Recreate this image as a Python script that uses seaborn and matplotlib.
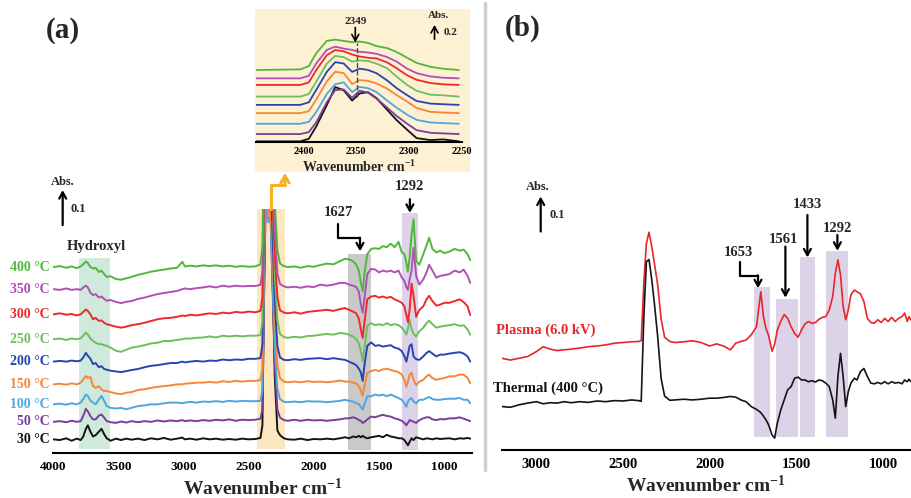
import numpy as np
import pandas as pd
import seaborn as sns
import matplotlib.pyplot as plt
from matplotlib.lines import Line2D
from matplotlib.patches import Rectangle

W, H = 911, 498

# ---------------- panel (a): in situ spectra, mAbs above each trace's own baseline
wn_a = [4000, 3950, 3900, 3860, 3820, 3790, 3770, 3750, 3735, 3715,
        3695, 3675, 3650, 3630, 3610, 3590, 3560, 3520, 3480, 3440,
        3400, 3350, 3300, 3250, 3200, 3150, 3100, 3050, 3010, 2990,
        2950, 2900, 2850, 2800, 2750, 2700, 2650, 2600, 2550, 2500,
        2450, 2410, 2395, 2380, 2365, 2350, 2335, 2320, 2300, 2280,
        2260, 2230, 2200, 2150, 2100, 2050, 2000, 1950, 1900, 1850,
        1800, 1760, 1730, 1700, 1675, 1655, 1640, 1625, 1610, 1590,
        1560, 1530, 1500, 1470, 1440, 1410, 1380, 1350, 1325, 1305,
        1290, 1278, 1265, 1250, 1235, 1215, 1190, 1160, 1135, 1115,
        1090, 1060, 1030, 1000, 960, 920, 880, 850, 820, 800]

a_30 = [0, -2, 3, -4, 2, -2, 8, 30, 40, 22,
        8, 12, 22, 30, 15, 3, -4, 2, -2, 2,
        -1, 2, -2, 3, 0, 4, -1, 2, 5, 0,
        2, -1, 3, 0, 2, -1, 1, -1, 2, 0,
        1, 4, 40, 480, 850, 680, 740, 520, 180, 25,
        12, 3, 0, -1, 2, -2, 1, 0, 2, 0,
        3, 6, 3, 8, 6, 10, 6, 10, 6, 3,
        6, 8, 10, 6, 13, 8, 6, 3, 3, -2,
        -10, -17, -7, 3, -2, 6, 3, 0, 3, 2,
        0, 3, 1, 2, 3, 0, 3, 2, 4, 2]
a_50 = [0, 2, -1, 3, 0, 2, 17, 37, 30, 16,
        7, 7, 18, 21, 12, 2, -1, -3, 1, -2,
        2, -1, 2, 0, 4, 1, 4, 2, 5, 2,
        4, 2, 5, 3, 6, 4, 7, 3, 6, 5,
        6, 9, 35, 420, 690, 600, 640, 420, 170, 35,
        12, 5, 3, 6, 3, 6, 4, 5, 3, 5,
        7, 10, 10, 13, 10, 5, 3, -3, 0, 7,
        15, 13, 17, 20, 17, 15, 10, 7, 3, -3,
        -10, -3, 5, 3, 0, -3, 5, 10, 13, 13,
        7, 5, 8, 7, 10, 10, 13, 9, 5, 2]
a_100 = [0, 2, -1, 3, 0, 5, 15, 28, 24, 10,
         5, 0, 14, 24, 10, -5, -10, -12, -10, -14,
         -10, -5, -3, 0, 0, 3, 5, 5, 3, 5,
         7, 5, 8, 7, 9, 7, 10, 8, 10, 9,
         9, 10, 40, 440, 630, 520, 550, 390, 160, 45,
         15, 7, 6, 8, 6, 9, 8, 8, 6, 8,
         10, 13, 10, 8, 3, 1, -7, -15, 3, 23,
         23, 28, 25, 28, 23, 28, 23, 18, 13, 3,
         -7, 8, 15, 18, 8, 3, 13, 13, 18, 21,
         15, 13, 13, 15, 16, 16, 18, 13, 13, 3]
a_150 = [0, 2, -1, 3, 0, 5, 14, 24, 19, 21,
         -5, -10, -5, -14, -19, -19, -22, -26, -28, -24,
         -22, -16, -14, -10, -7, -5, -3, 0, 0, 2,
         3, 5, 5, 7, 5, 9, 7, 10, 8, 10,
         10, 12, 45, 460, 630, 480, 500, 400, 190, 55,
         18, 8, 6, 8, 6, 9, 7, 8, 6, 8,
         11, 8, 8, 5, 3, -5, -17, -32, -2, 33,
         38, 41, 38, 43, 45, 41, 38, 35, 28, 13,
         -7, 8, 28, 33, 13, -2, 8, 13, 23, 28,
         18, 13, 16, 18, 23, 23, 28, 28, 18, 3]
a_200 = [0, 2, 0, 3, 1, 3, 12, 25, 17, 8,
         -7, -4, -16, -13, -21, -23, -26, -28, -30, -27,
         -24, -21, -16, -12, -10, -7, -4, -4, 0, -2,
         0, 2, 0, 3, 2, 6, 4, 6, 5, 8,
         8, 10, 50, 480, 650, 530, 540, 400, 170, 45,
         12, 5, 4, 7, 5, 8, 9, 10, 7, 10,
         7, 5, 0, -5, -10, -20, -30, -55, -5, 45,
         55, 45, 47, 43, 45, 47, 40, 37, 30, 15,
         0, 20, 45, 50, 15, 7, 5, 15, 25, 30,
         23, 15, 20, 20, 23, 25, 27, 23, 15, 0]
a_250 = [0, 2, -2, 2, 0, 2, 10, 19, 14, 2,
         -5, -10, -14, -14, -17, -19, -24, -33, -36, -30,
         -24, -21, -17, -12, -10, -5, -5, -2, 0, 2,
         2, 4, 5, 8, 5, 10, 8, 10, 8, 10,
         10, 12, 50, 480, 620, 550, 540, 440, 180, 55,
         15, 6, 4, 7, 5, 9, 10, 13, 15, 13,
         18, 16, 13, 8, 0, -12, -32, -62, -22, 38,
         46, 40, 43, 40, 46, 40, 43, 40, 33, 23,
         13, 30, 55, 30, 15, 8, 23, 33, 46, 53,
         43, 33, 36, 38, 40, 43, 38, 40, 28, 13]
a_300 = [0, 3, -1, 1, -3, 0, 7, 14, 10, 0,
         -14, -10, -19, -17, -24, -28, -31, -35, -38, -35,
         -31, -28, -24, -19, -14, -11, -10, -7, -3, -5,
         -1, -3, 0, 3, 1, 5, 3, 7, 5, 8,
         6, 10, 50, 440, 530, 460, 420, 350, 170, 50,
         12, 5, 3, 6, 2, 7, 9, 11, 13, 10,
         15, 18, 13, 8, 3, -12, -42, -67, -17, 43,
         51, 53, 48, 51, 47, 50, 43, 38, 33, 23,
         -2, -22, 13, 88, 53, -7, 13, 23, 43, 53,
         38, 25, 28, 33, 33, 38, 43, 35, 23, -2]
a_350 = [0, -2, 2, -2, 0, -2, 5, 10, 5, -10,
         -17, -14, -24, -21, -28, -33, -31, -36, -40, -36,
         -34, -28, -24, -19, -14, -11, -8, -5, 0, 2,
         0, 3, 5, 8, 5, 10, 7, 10, 8, 9,
         9, 12, 50, 400, 470, 440, 400, 340, 180, 45,
         15, 8, 5, 7, 4, 8, 6, 13, 10, 13,
         18, 18, 13, 10, 6, -7, -42, -67, -22, 43,
         58, 56, 48, 53, 50, 53, 48, 53, 33, 23,
         6, -2, 28, 53, 118, 38, 13, 28, 48, 70,
         53, 33, 38, 40, 43, 53, 48, 56, 38, 18]
a_400 = [0, 3, -2, 2, -3, 2, 8, 16, 12, 0,
         -4, -2, -14, -10, -20, -28, -26, -34, -36, -32,
         -28, -22, -18, -13, -10, -7, -4, -2, 15, 2,
         4, 2, 5, 3, 5, 2, 4, 1, 3, 1,
         2, 8, 60, 420, 460, 440, 400, 340, 190, 50,
         10, 3, 0, 2, -2, 3, 1, 6, 10, 8,
         17, 24, 22, 17, 7, -10, -43, -70, -13, 37,
         52, 54, 52, 60, 57, 67, 57, 72, 42, 37,
         12, -13, 27, 92, 137, 17, 7, 37, 62, 84,
         52, 42, 47, 40, 44, 52, 47, 50, 37, 20]

temps = ['30 °C', '50 °C', '100 °C', '150 °C', '200 °C',
         '250 °C', '300 °C', '350 °C', '400 °C']
spectra_a = [a_30, a_50, a_100, a_150, a_200, a_250, a_300, a_350, a_400]
offsets_a = [0.039, 0.089, 0.139, 0.196, 0.261, 0.325, 0.396, 0.468, 0.531]
colors = ['#141414', '#7b3c9c', '#4ea6e0', '#f5863a', '#2546b0',
          '#6cbf5c', '#ec2a2c', '#b050b4', '#4fb83a']

# ---------------- inset: CO2 band, Abs above each trace's baseline
wn_in = [2445, 2403, 2395, 2388, 2378, 2370, 2362, 2354, 2347,
         2339, 2331, 2321, 2312, 2302, 2293, 2280, 2268, 2253]
in_30 = [0, 0, .04, .23, .56, .84, .79, .63, .74, .76, .67, .49, .33, .18, .05, .02, .03, 0]
in_50 = [0, 0, .03, .18, .49, .68, .69, .56, .67, .64, .55, .41, .28, .16, .06, .02, .01, 0]
in_100 = [0, 0, .03, .18, .46, .61, .64, .49, .57, .55, .49, .36, .25, .14, .06, .02, .01, 0]
in_150 = [0, 0, .03, .21, .49, .64, .62, .45, .51, .50, .46, .38, .28, .18, .08, .02, .01, 0]
in_200 = [0, 0, .04, .23, .51, .66, .64, .51, .56, .54, .49, .38, .26, .15, .06, .02, .01, 0]
in_250 = [0, 0, .04, .23, .51, .63, .61, .54, .56, .55, .51, .44, .31, .18, .09, .03, .02, 0]
in_300 = [0, 0, .04, .23, .46, .54, .52, .47, .44, .42, .41, .35, .26, .15, .08, .03, .01, 0]
in_350 = [0, 0, .04, .23, .44, .49, .46, .44, .41, .40, .38, .33, .26, .15, .08, .03, .01, 0]
in_400 = [0, .01, .06, .26, .45, .47, .45, .43, .44, .42, .37, .34, .28, .19, .11, .05, .02, 0]
spectra_in = [in_30, in_50, in_100, in_150, in_200, in_250, in_300, in_350, in_400]
offsets_in = [0, 0.113, 0.272, 0.436, 0.564, 0.692, 0.872, 0.974, 1.103]

# ---------------- panel (b): plasma vs thermal, mAbs above baseline
wn_b = [3200, 3150, 3100, 3050, 3000, 2960, 2920, 2880, 2840, 2800,
        2750, 2700, 2650, 2600, 2550, 2500, 2450, 2410, 2395, 2380,
        2365, 2350, 2335, 2320, 2300, 2280, 2260, 2230, 2200, 2150,
        2100, 2050, 2000, 1960, 1920, 1880, 1850, 1820, 1790, 1760,
        1730, 1705, 1690, 1675, 1660, 1640, 1625, 1610, 1590, 1570,
        1550, 1530, 1510, 1490, 1470, 1450, 1430, 1410, 1390, 1370,
        1350, 1330, 1310, 1290, 1275, 1260, 1245, 1230, 1215, 1200,
        1185, 1165, 1150, 1130, 1110, 1090, 1070, 1050, 1030, 1010,
        990, 970, 950, 930, 910, 890, 875, 860, 850, 840]
plasma = [0, -5, 0, 5, 19, 33, 26, 22, 24, 26,
          29, 33, 35, 38, 43, 45, 47, 48, 50, 215,
          328, 360, 322, 275, 210, 112, 60, 48, 45, 47,
          50, 45, 35, 41, 35, 24, 43, 48, 52, 67,
          90, 190, 120, 85, 65, 20, 40, 80, 105, 125,
          114, 90, 71, 60, 81, 98, 105, 100, 102, 111,
          117, 119, 138, 176, 243, 281, 238, 148, 110, 138,
          181, 195, 190, 184, 162, 114, 102, 100, 110, 102,
          114, 105, 117, 105, 114, 119, 129, 105, 119, 110]
thermal = [0, -2, 5, 10, 14, 8, 11, 10, 14, 11,
           14, 12, 16, 14, 17, 16, 19, 17, 15, 255,
           414, 420, 366, 300, 200, 80, 30, 18, 19, 21,
           19, 21, 24, 24, 26, 29, 27, 19, 14, 0,
           -8, -17, -27, -38, -52, -81, -90, -48, -10, 19,
           48, 57, 81, 84, 76, 76, 71, 74, 70, 76,
           74, 67, 57, 19, -33, 86, 152, 86, 0, 43,
           67, 81, 76, 100, 109, 86, 67, 65, 69, 65,
           71, 65, 71, 67, 69, 65, 76, 71, 78, 72]
labels_b = ['Plasma (6.0 kV)', 'Thermal (400 °C)']
offsets_b = [0.262, 0.124]
colors_b = ['#e8262a', '#141414']

# ---------------- style
sns.set_style('white')
plt.rcParams['font.family'] = ['Liberation Serif', 'DejaVu Serif']
plt.rcParams['font.weight'] = 'bold'
plt.rcParams['axes.labelweight'] = 'bold'
plt.rcParams['mathtext.fontset'] = 'custom'
plt.rcParams['mathtext.rm'] = 'Liberation Serif:bold'
plt.rcParams['mathtext.bf'] = 'Liberation Serif:bold'
plt.rcParams['mathtext.default'] = 'bf'

fig = plt.figure(figsize=(W / 100, H / 100), dpi=100)
xlab = r'Wavenumber cm$^{-1}$'
arrow_k = dict(arrowstyle='->, head_length=0.45, head_width=0.25', lw=1.6, color='k',
               shrinkA=0, shrinkB=0)


def style_axis(ax, size):
    for s in ['left', 'top', 'right']:
        ax.spines[s].set_visible(False)
    ax.spines['bottom'].set_linewidth(1.5)
    ax.spines['bottom'].set_color('k')
    ax.set_yticks([])
    ax.set_ylabel('')
    ax.tick_params(axis='x', direction='inout', length=5, width=1.3,
                   labelsize=size, pad=3, colors='k')
    ax.set_facecolor('none')


# ---------------- panel (a)
ax_a = fig.add_axes([53.3 / W, 1 - 453 / H, 418.2 / W, 244 / H])
rows = []
for t, spec, off in zip(temps, spectra_a, offsets_a):
    rows.append(pd.DataFrame({'wn': wn_a, 'abs': off + np.array(spec) / 1000.0, 'temp': t}))
df_a = pd.concat(rows)
sns.lineplot(data=df_a, x='wn', y='abs', hue='temp', hue_order=temps,
             palette=dict(zip(temps, colors)), estimator=None, sort=False,
             legend=False, lw=1.4, ax=ax_a)
ax_a.axvspan(3801, 3565, ymin=0.015, ymax=0.80, color='#cfe9dc', lw=0, zorder=0)
ax_a.axvspan(2435, 2223, ymin=0.015, ymax=1.0, color='#fde7c0', lw=0, zorder=0)
ax_a.axvspan(1737, 1563, ymin=0.012, ymax=0.816, color='#c9c9c9', lw=0, zorder=0)
ax_a.axvspan(1327, 1200, ymin=0.012, ymax=0.982, color='#ddd2e8', lw=0, zorder=0)
ax_a.set_xlim(4000, 790)
ax_a.set_ylim(0, 0.697)
ax_a.set_xticks(range(4000, 999, -500))
style_axis(ax_a, 9.5)
ax_a.set_xlabel(xlab, fontsize=14, fontweight='bold', labelpad=4)

ytr = ax_a.get_yaxis_transform()
for t, off, c in zip(temps, offsets_a, colors):
    ax_a.text(-0.008, off, t, transform=ytr, ha='right', va='center',
              color=c, fontsize=10)

ax_a.annotate('', xy=(3928, 0.751), xytext=(3928, 0.651), arrowprops=arrow_k,
              annotation_clip=False)
ax_a.text(3926, 0.774, 'Abs.', ha='center', va='center', fontsize=9)
ax_a.text(3805, 0.697, '0.1', ha='center', va='center', fontsize=9)
ax_a.text(3667, 0.591, 'Hydroxyl', ha='center', va='center', fontsize=10.5)

ax_a.text(1812, 0.688, '1627', ha='center', va='center', fontsize=10.5)
ax_a.plot([1812, 1812, 1646], [0.655, 0.613, 0.613], color='k', lw=1.6, clip_on=False)
ax_a.annotate('', xy=(1646, 0.576), xytext=(1646, 0.615), arrowprops=arrow_k,
              annotation_clip=False)
ax_a.text(1263, 0.762, '1292', ha='center', va='center', fontsize=10.5)
ax_a.annotate('', xy=(1263, 0.686), xytext=(1263, 0.725), arrowprops=arrow_k,
              annotation_clip=False)

orange = '#f6b12c'
ax_a.plot([2332, 2332, 2222], [0.697, 0.766, 0.766], color=orange, lw=2.2, clip_on=False)
ax_a.annotate('', xy=(2222, 0.80), xytext=(2222, 0.764),
              arrowprops=dict(arrowstyle='->, head_length=0.5, head_width=0.3',
                              lw=2.2, color=orange, shrinkA=0, shrinkB=0),
              annotation_clip=False)

# ---------------- inset
fig.add_artist(Rectangle((255 / W, 1 - 172 / H), 215 / W, 163 / H,
                         transform=fig.transFigure, facecolor='#fdf0d3',
                         edgecolor='none', zorder=-1))
ax_in = fig.add_axes([256 / W, 1 - 142 / H, 206 / W, 130 / H])
rows = []
for t, spec, off in zip(temps, spectra_in, offsets_in):
    rows.append(pd.DataFrame({'wn': wn_in, 'abs': off + np.array(spec), 'temp': t}))
df_in = pd.concat(rows)
sns.lineplot(data=df_in, x='wn', y='abs', hue='temp', hue_order=temps,
             palette=dict(zip(temps, colors)), estimator=None, sort=False,
             legend=False, lw=1.3, ax=ax_in)
ax_in.plot([2349, 2349], [0.69, 1.52], ls='--', color='#33553a', lw=1)
ax_in.set_xlim(2445, 2250)
ax_in.set_ylim(-0.01, 2.0)
ax_in.set_xticks([2400, 2350, 2300, 2250])
style_axis(ax_in, 7.5)
ax_in.tick_params(axis='x', length=3, pad=2)
ax_in.set_xlabel(xlab, fontsize=10, fontweight='bold', labelpad=2)
ax_in.text(2351, 1.85, '2349', ha='center', va='center', fontsize=8)
ax_in.annotate('', xy=(2351, 1.53), xytext=(2351, 1.76), arrowprops=dict(arrow_k, lw=1.2),
               annotation_clip=False)
ax_in.text(2272, 1.94, 'Abs.', ha='center', va='center', fontsize=8)
ax_in.annotate('', xy=(2276, 1.80), xytext=(2276, 1.58), arrowprops=dict(arrow_k, lw=1.2),
               annotation_clip=False)
ax_in.text(2261, 1.68, '0.2', ha='center', va='center', fontsize=8)

# ---------------- panel (b)
ax_b = fig.add_axes([501.7 / W, 1 - 450 / H, 409 / W, 250 / H])
rows = []
for lab, spec, off in zip(labels_b, [plasma, thermal], offsets_b):
    rows.append(pd.DataFrame({'wn': wn_b, 'abs': off + np.array(spec) / 1000.0, 'kind': lab}))
df_b = pd.concat(rows)
sns.lineplot(data=df_b, x='wn', y='abs', hue='kind', hue_order=labels_b,
             palette=dict(zip(labels_b, colors_b)), estimator=None, sort=False,
             legend=False, lw=1.2, ax=ax_b)
band = '#ddd3e8'
ax_b.axvspan(1744, 1652, ymin=0.053, ymax=0.651, color=band, lw=0, zorder=0)
ax_b.axvspan(1619, 1490, ymin=0.053, ymax=0.606, color=band, lw=0, zorder=0)
ax_b.axvspan(1479, 1390, ymin=0.053, ymax=0.772, color=band, lw=0, zorder=0)
ax_b.axvspan(1331, 1200, ymin=0.053, ymax=0.797, color=band, lw=0, zorder=0)
ax_b.set_xlim(3200, 840)
ax_b.set_ylim(0, 0.714)
ax_b.set_xticks(range(3000, 999, -500))
style_axis(ax_b, 10.5)
ax_b.set_xlabel(xlab, fontsize=14, fontweight='bold', labelpad=3)

ax_b.text(3231, 0.343, labels_b[0], ha='left', va='center', color=colors_b[0], fontsize=10.5)
ax_b.text(3250, 0.176, labels_b[1], ha='left', va='center', color=colors_b[1], fontsize=10.5)

ax_b.annotate('', xy=(2975, 0.724), xytext=(2975, 0.624), arrowprops=arrow_k,
              annotation_clip=False)
ax_b.text(2994, 0.751, 'Abs.', ha='center', va='center', fontsize=9)
ax_b.text(2880, 0.671, '0.1', ha='center', va='center', fontsize=9)

ax_b.text(1834, 0.563, '1653', ha='center', va='center', fontsize=10.5)
ax_b.plot([1827, 1827, 1721], [0.538, 0.497, 0.497], color='k', lw=1.6)
ax_b.annotate('', xy=(1721, 0.462), xytext=(1721, 0.499), arrowprops=arrow_k)
ax_b.text(1577, 0.600, '1561', ha='center', va='center', fontsize=10.5)
ax_b.annotate('', xy=(1563, 0.435), xytext=(1563, 0.581), arrowprops=arrow_k)
ax_b.text(1436, 0.700, '1433', ha='center', va='center', fontsize=10.5)
ax_b.annotate('', xy=(1436, 0.550), xytext=(1436, 0.671), arrowprops=arrow_k)
ax_b.text(1263, 0.633, '1292', ha='center', va='center', fontsize=10.5)
ax_b.annotate('', xy=(1263, 0.569), xytext=(1263, 0.614), arrowprops=arrow_k)

# ---------------- panel letters and divider
fig.add_artist(Line2D([485 / W, 485 / W], [1 - 3 / H, 1 - 470 / H],
                      transform=fig.transFigure, color='#cfcfcf', lw=2.5))
fig.text(63 / W, 1 - 30 / H, '(a)', ha='center', va='center', fontsize=21)
fig.text(523 / W, 1 - 28 / H, '(b)', ha='center', va='center', fontsize=21)

fig.savefig('out.png', dpi=100)
